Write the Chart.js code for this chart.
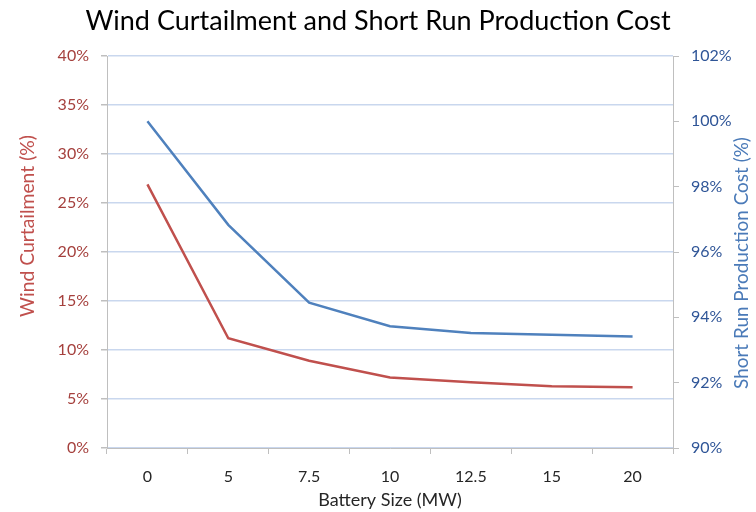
<!DOCTYPE html>
<html>
<head>
<meta charset="utf-8">
<script src="https://cdn.jsdelivr.net/npm/chart.js@4.4.1/dist/chart.umd.min.js"></script>
<style>
html,body{margin:0;padding:0;background:#fff;}
#wrap{width:756px;height:512px;}
</style>
</head>
<body>
<div id="wrap"><canvas id="c" width="756" height="512"></canvas></div>
<script>
const categories = ["0", "5", "7.5", "10", "12.5", "15", "20"];
const windCurtailment = [26.9, 11.2, 8.9, 7.2, 6.7, 6.3, 6.2];
const productionCost = [100.0, 96.83, 94.45, 93.73, 93.52, 93.47, 93.41];
const leftTicks = [0, 5, 10, 15, 20, 25, 30, 35, 40];
const rightTicks = [90, 92, 94, 96, 98, 100, 102];
const leftTitle = 'Wind Curtailment (%)';
const rightTitle = 'Short Run Production Cost (%)';

const FONT = "Lato, 'Open Sans', sans-serif";
const PLOT_LEFT = 107, PLOT_RIGHT = 673, PLOT_BOTTOM = 448;

// Draws both y-axis titles rotated to read bottom-to-top, as in the reference.
const yTitles = {
  id: 'yTitles',
  afterDraw(chart) {
    const ctx = chart.ctx;
    const items = [
      { text: leftTitle, x: 28, y: 226, len: 182, color: '#C0504D' },
      { text: rightTitle, x: 742, y: 263, len: 252, color: '#4A7AB8' }
    ];
    items.forEach(it => {
      ctx.save();
      ctx.font = '20px ' + FONT;
      const w = ctx.measureText(it.text).width;
      const size = 20 * it.len / w;
      ctx.font = size.toFixed(2) + 'px ' + FONT;
      ctx.fillStyle = it.color;
      ctx.textAlign = 'center';
      ctx.textBaseline = 'middle';
      ctx.translate(it.x, it.y);
      ctx.rotate(-Math.PI / 2);
      ctx.fillText(it.text, 0, 0);
      ctx.restore();
    });
  }
};

new Chart(document.getElementById('c'), {
  type: 'line',
  data: {
    labels: categories,
    datasets: [
      {
        label: leftTitle,
        data: windCurtailment,
        yAxisID: 'yL',
        borderColor: '#C0504D',
        backgroundColor: '#C0504D',
        borderWidth: 2.5,
        pointRadius: 0,
        tension: 0
      },
      {
        label: rightTitle,
        data: productionCost,
        yAxisID: 'yR',
        borderColor: '#4F81BD',
        backgroundColor: '#4F81BD',
        borderWidth: 2.5,
        pointRadius: 0,
        tension: 0
      }
    ]
  },
  plugins: [yTitles],
  options: {
    responsive: false,
    animation: false,
    layout: { padding: { left: 0, right: 0, top: 0, bottom: 0 } },
    plugins: {
      legend: { display: false },
      tooltip: { enabled: false },
      title: {
        display: true,
        text: 'Wind Curtailment and Short Run Production Cost',
        color: '#000',
        font: { family: FONT, size: 27, weight: 'normal', lineHeight: 1.2 },
        padding: { top: 5, bottom: 18.6 }
      }
    },
    scales: {
      x: {
        type: 'category',
        offset: true,
        grid: {
          display: true,
          offset: true,
          drawOnChartArea: false,
          drawTicks: true,
          tickLength: 6,
          tickColor: '#BFBFBF'
        },
        border: { display: true, color: '#BFBFBF', width: 1 },
        ticks: {
          color: '#262626',
          font: { family: FONT, size: 16 },
          padding: 13,
          maxRotation: 0
        },
        title: {
          display: true,
          text: 'Battery Size (MW)',
          color: '#262626',
          font: { family: FONT, size: 18 },
          padding: { top: 2, bottom: 1 }
        },
        afterFit: (s) => { s.height = 512 - PLOT_BOTTOM; }
      },
      yL: {
        type: 'linear',
        position: 'left',
        min: 0,
        max: 40,
        afterBuildTicks: (s) => { s.ticks = leftTicks.map(v => ({ value: v })); },
        grid: {
          color: '#C9D7EE',
          lineWidth: 1.5,
          drawTicks: true,
          tickLength: 6,
          tickColor: '#BFBFBF'
        },
        border: { display: true, color: '#BFBFBF', width: 1 },
        ticks: {
          color: '#A5403D',
          font: { family: FONT, size: 16 },
          padding: 12,
          callback: (v) => v + '%'
        },
        title: { display: false },
        afterFit: (s) => { s.width = PLOT_LEFT; }
      },
      yR: {
        type: 'linear',
        position: 'right',
        min: 90,
        max: 102,
        afterBuildTicks: (s) => { s.ticks = rightTicks.map(v => ({ value: v })); },
        grid: {
          drawOnChartArea: false,
          drawTicks: true,
          tickLength: 6,
          tickColor: '#BFBFBF'
        },
        border: { display: true, color: '#BFBFBF', width: 1 },
        ticks: {
          color: '#2F5597',
          font: { family: FONT, size: 16 },
          padding: 12,
          callback: (v) => v + '%'
        },
        title: { display: false },
        afterFit: (s) => { s.width = 756 - PLOT_RIGHT; }
      }
    }
  }
});
</script>
</body>
</html>
